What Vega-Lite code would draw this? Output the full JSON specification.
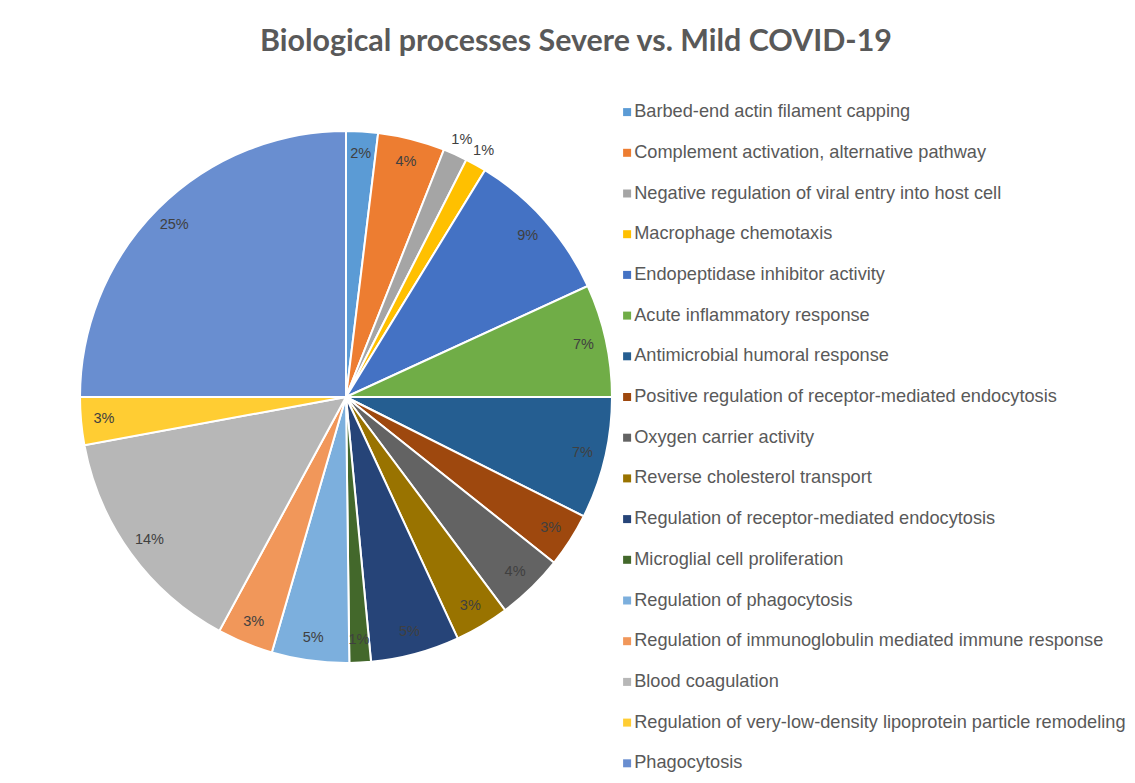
{
  "$schema": "https://vega.github.io/schema/vega-lite/v6.json",
  "width": 692,
  "height": 634,
  "autosize": {"type": "none"},
  "padding": {"top": 80, "left": 0, "right": 443, "bottom": 69},
  "background": "white",
  "title": {
    "text": "Biological processes Severe vs. Mild COVID-19",
    "font": "Lato",
    "fontSize": 30.4,
    "fontWeight": "bold",
    "color": "#595959",
    "anchor": "middle",
    "frame": "group",
    "dx": 230,
    "baseline": "alphabetic",
    "offset": -1
  },
  "config": {"view": {"stroke": null}},
  "data": {
    "values": [
      {"idx": 1, "process": "Barbed-end actin filament capping", "share": 0.0193},
      {"idx": 2, "process": "Complement activation, alternative pathway", "share": 0.0407},
      {"idx": 3, "process": "Negative regulation of viral entry into host cell", "share": 0.0147},
      {"idx": 4, "process": "Macrophage chemotaxis", "share": 0.0128},
      {"idx": 5, "process": "Endopeptidase inhibitor activity", "share": 0.094},
      {"idx": 6, "process": "Acute inflammatory response", "share": 0.0685},
      {"idx": 7, "process": "Antimicrobial humoral response", "share": 0.074},
      {"idx": 8, "process": "Positive regulation of receptor-mediated endocytosis", "share": 0.033},
      {"idx": 9, "process": "Oxygen carrier activity", "share": 0.041},
      {"idx": 10, "process": "Reverse cholesterol transport", "share": 0.033},
      {"idx": 11, "process": "Regulation of receptor-mediated endocytosis", "share": 0.054},
      {"idx": 12, "process": "Microglial cell proliferation", "share": 0.013},
      {"idx": 13, "process": "Regulation of phagocytosis", "share": 0.047},
      {"idx": 14, "process": "Regulation of immunoglobulin mediated immune response", "share": 0.034},
      {"idx": 15, "process": "Blood coagulation", "share": 0.142},
      {"idx": 16, "process": "Regulation of very-low-density lipoprotein particle remodeling", "share": 0.029},
      {"idx": 17, "process": "Phagocytosis", "share": 0.25}
    ]
  },
  "encoding": {
    "theta": {"field": "share", "type": "quantitative", "stack": true},
    "order": {"field": "idx", "type": "quantitative"},
    "color": {
      "field": "process",
      "type": "nominal",
      "sort": null,
      "scale": {
        "domain": [
          "Barbed-end actin filament capping",
          "Complement activation, alternative pathway",
          "Negative regulation of viral entry into host cell",
          "Macrophage chemotaxis",
          "Endopeptidase inhibitor activity",
          "Acute inflammatory response",
          "Antimicrobial humoral response",
          "Positive regulation of receptor-mediated endocytosis",
          "Oxygen carrier activity",
          "Reverse cholesterol transport",
          "Regulation of receptor-mediated endocytosis",
          "Microglial cell proliferation",
          "Regulation of phagocytosis",
          "Regulation of immunoglobulin mediated immune response",
          "Blood coagulation",
          "Regulation of very-low-density lipoprotein particle remodeling",
          "Phagocytosis"
        ],
        "range": ["#5B9BD5", "#ED7D31", "#A5A5A5", "#FFC000", "#4472C4", "#70AD47", "#255E91", "#9E480E", "#636363", "#997300", "#264478", "#43682B", "#7CAFDD", "#F1975A", "#B7B7B7", "#FFCD33", "#698ED0"]
      },
      "legend": {
        "orient": "none",
        "legendX": 618,
        "legendY": 23,
        "title": null,
        "symbolType": "square",
        "symbolSize": 64,
        "symbolStrokeWidth": 0,
        "labelFont": "Liberation Sans",
        "labelFontSize": 18.2,
        "labelColor": "#595959",
        "labelOffset": -2,
        "labelLimit": 600,
        "rowPadding": 21.7
      }
    }
  },
  "layer": [
    {
      "mark": {"type": "arc", "outerRadius": 266, "stroke": "white", "strokeWidth": 2}
    },
    {
      "mark": {"type": "text", "radius": 243, "font": "Liberation Sans", "fontSize": 14.5, "fill": "#404040"},
      "encoding": {
        "text": {"field": "share", "type": "quantitative", "format": ".0%"},
        "color": {"value": "#404040"},
        "opacity": {
          "condition": {"test": "datum.idx == 3 || datum.idx == 4", "value": 0},
          "value": 1
        }
      }
    },
    {
      "mark": {"type": "text", "radius": 282, "font": "Liberation Sans", "fontSize": 14.5, "fill": "#404040"},
      "encoding": {
        "text": {"field": "share", "type": "quantitative", "format": ".0%"},
        "color": {"value": "#404040"},
        "opacity": {
          "condition": {"test": "datum.idx == 3 || datum.idx == 4", "value": 1},
          "value": 0
        }
      }
    }
  ]
}
